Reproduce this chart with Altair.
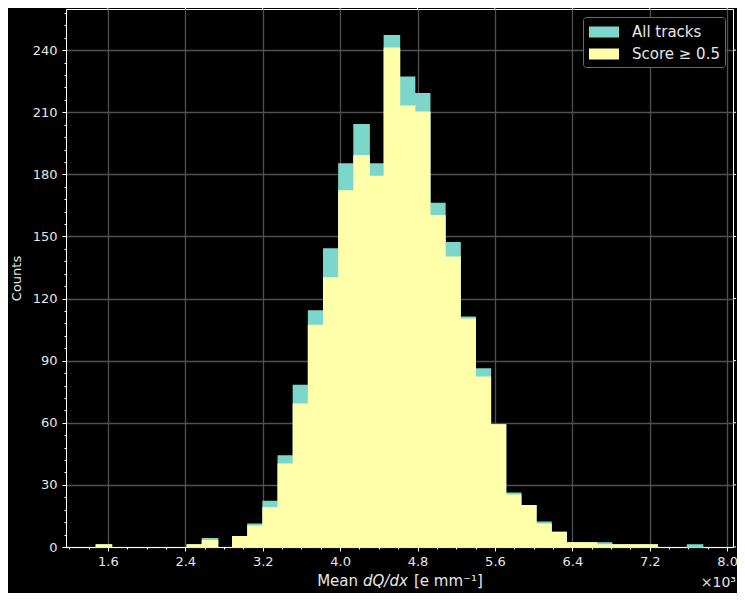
import altair as alt
import numpy as np
import pandas as pd

# ---- data (x in units of 10^3 e/mm) ----
bin_start = 1.4803
bin_width = 0.15665
counts_all = [1, 0, 0, 0, 0, 0, 1, 4, 0, 5, 11, 22, 44, 78, 114, 144, 185, 204, 185, 247,
              227, 219, 166, 147, 111, 86, 59, 26, 20, 12, 7, 2, 2, 2, 1, 1, 1, 0, 0, 1]
counts_score = [1, 0, 0, 0, 0, 0, 1, 3, 0, 5, 10, 19, 40, 69, 107, 130, 172, 189, 179, 241,
                213, 210, 160, 140, 110, 82, 59, 25, 20, 11, 7, 2, 2, 1, 1, 1, 1, 0, 0, 0]
series_names = ["All tracks", "Score \u2265 0.5"]
series_colors = ["#7dd6ca", "#feffa8"]
x_major = [1.6, 2.4, 3.2, 4.0, 4.8, 5.6, 6.4, 7.2, 8.0]
y_major = [0, 30, 60, 90, 120, 150, 180, 210, 240]
x_domain = [1.167, 8.060]
y_domain = [0, 259.9]

W, H = 667, 538
TXT = "#e6e6e6"

edges = bin_start + bin_width * np.arange(len(counts_all) + 1)


def frame(counts, name):
    df = pd.DataFrame({"lo": edges[:-1], "hi": edges[1:], "count": counts, "series": name})
    return df[df["count"] > 0]


x_ticks = [round(v, 1) for v in np.arange(1.2, 8.001, 0.2)]
y_ticks = list(range(0, 259, 6))

XMAJ = "round(datum.value*10) % 8 === 0"
YMAJ = "datum.value % 30 === 0"
x_axis = alt.Axis(
    values=x_ticks,
    labelExpr=XMAJ + " ? format(datum.value, '.1f') : ''",
    tickSize={"condition": {"test": XMAJ, "value": 4}, "value": 2},
    gridOpacity={"condition": {"test": XMAJ, "value": 1}, "value": 0},
    title=None, labelFlush=False, labelOverlap=False, labelPadding=4,
)
y_axis = alt.Axis(
    values=y_ticks,
    labelExpr=YMAJ + " ? datum.value : ''",
    tickSize={"condition": {"test": YMAJ, "value": 4}, "value": 2},
    gridOpacity={"condition": {"test": YMAJ, "value": 1}, "value": 0},
    title="Counts", titlePadding=9, labelFlush=False, labelOverlap=False, labelPadding=5,
)
x_scale = alt.Scale(domain=x_domain, nice=False, zero=False)
y_scale = alt.Scale(domain=y_domain, nice=False)
color_scale = alt.Scale(domain=series_names, range=series_colors)
color = alt.Color(
    "series:N",
    scale=color_scale,
    legend=alt.Legend(
        title=None, orient="none", legendX=517, legendY=8,
        symbolType="M-1.5,-0.55L1.5,-0.55L1.5,0.55L-1.5,0.55Z", symbolSize=400,
        symbolStrokeWidth=0, symbolOpacity=1, symbolOffset=6,
        labelFontSize=15, labelColor=TXT, labelOffset=18, labelFont="DejaVu Sans",
        fillColor="black", strokeColor="#6a6a6a", cornerRadius=3, padding=5, rowPadding=4,
    ),
)


def hist(df):
    return alt.Chart(df).mark_rect(strokeWidth=1.4).encode(
        x=alt.X("lo:Q", scale=x_scale, axis=x_axis),
        x2="hi:Q",
        y=alt.Y("count:Q", scale=y_scale, axis=y_axis),
        y2=alt.datum(0),
        color=color,
        stroke=alt.Stroke("series:N", scale=color_scale, legend=None),
    )


h_all = hist(frame(counts_all, series_names[0]))
h_score = hist(frame(counts_score, series_names[1]))

top_ticks = alt.Chart(pd.DataFrame({"lo": x_major})).mark_rule(color="white", strokeWidth=1).encode(
    x=alt.X("lo:Q", scale=x_scale, axis=x_axis), y=alt.value(0), y2=alt.value(-3)
)
right_ticks = alt.Chart(pd.DataFrame({"count": y_major})).mark_rule(color="white", strokeWidth=1).encode(
    y=alt.Y("count:Q", scale=y_scale, axis=y_axis), x=alt.value(W), x2=alt.value(W + 3)
)

TY = 577
title_parts = pd.DataFrame({"t": ["x"]})
t1 = alt.Chart(title_parts).mark_text(text="Mean", align="right", baseline="alphabetic",
                                      fontSize=15, color=TXT, font="DejaVu Sans").encode(
    x=alt.value(292), y=alt.value(TY))
t2 = alt.Chart(title_parts).mark_text(text="dQ/dx", align="left", baseline="alphabetic",
                                      fontSize=15, fontStyle="italic", color=TXT, font="DejaVu Sans").encode(
    x=alt.value(297), y=alt.value(TY))
t3 = alt.Chart(title_parts).mark_text(text="[e mm\u207b\u00b9]", align="left", baseline="alphabetic",
                                      fontSize=15, color=TXT, font="DejaVu Sans").encode(
    x=alt.value(348), y=alt.value(TY))
t4 = alt.Chart(title_parts).mark_text(text="\u00d710\u00b3", align="right", baseline="alphabetic",
                                      fontSize=14, color=TXT, font="DejaVu Sans").encode(
    x=alt.value(W + 3), y=alt.value(TY + 1))

chart = alt.layer(h_all, h_score, top_ticks, right_ticks, t1, t2, t3, t4).properties(
    width=W, height=H,
    autosize=alt.AutoSizeParams(type="none"),
    padding={"left": 58, "top": 1, "right": 4, "bottom": 46},
).configure(
    background="black", font="DejaVu Sans"
).configure_view(
    stroke="white", strokeWidth=1
).configure_axis(
    domainColor="white", domainWidth=1, tickColor="white", tickWidth=1,
    gridColor="#505050", gridWidth=1.3,
    labelColor=TXT, titleColor=TXT, labelFontSize=13, titleFontSize=13,
    labelFont="DejaVu Sans", titleFont="DejaVu Sans", titleFontWeight="normal",
)

chart.save("out.html", embed_options={"renderer": "svg", "actions": False})
